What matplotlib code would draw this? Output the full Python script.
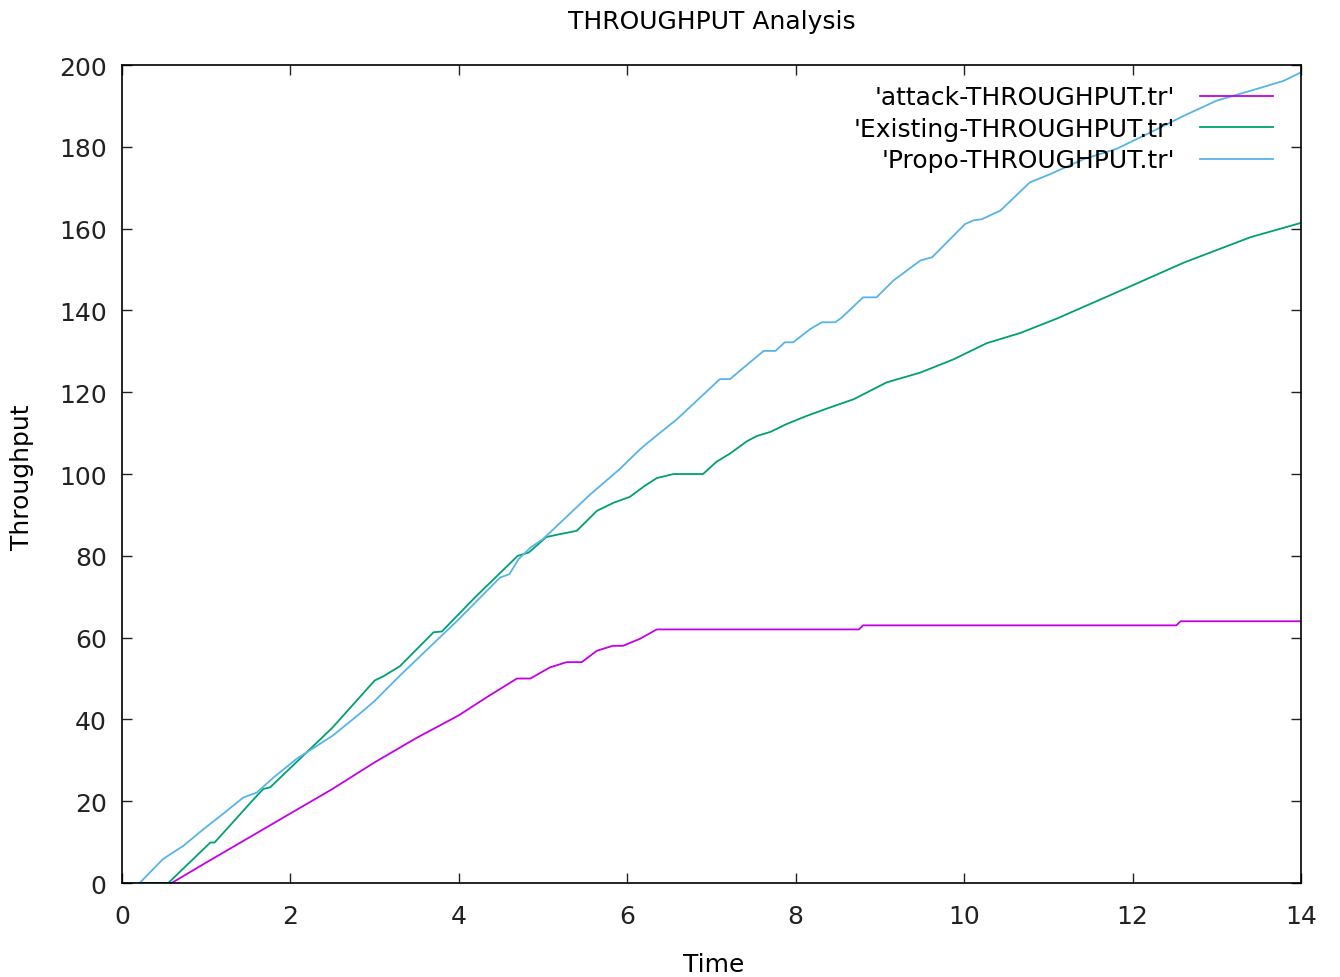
import numpy as np
import matplotlib
matplotlib.use("Agg")
import matplotlib.pyplot as plt

plt.rcParams['font.family'] = ['DejaVu Sans']

# values (time, throughput)
attack_t = [0, 0.59, 1.0, 1.5, 2.0, 2.5, 3.0, 3.5, 4.0, 4.33, 4.69, 4.85, 5.08, 5.28, 5.46,
            5.64, 5.83, 5.95, 6.15, 6.35, 8.75, 8.8, 12.52, 12.57, 14.0]
attack_y = [0, 0, 5, 11, 17, 23, 29.5, 35.5, 41, 45.4, 50, 50, 52.7, 54, 54,
            56.8, 58, 58, 59.7, 62, 62, 63, 63, 64, 64]

existing_t = [0, 0.55, 1.05, 1.10, 1.60, 1.68, 1.76, 2.11, 2.5, 3.0, 3.1, 3.3, 3.7, 3.8, 4.2,
              4.7, 4.83, 5.04, 5.2, 5.4, 5.64, 5.84, 6.03, 6.2, 6.35, 6.55, 6.9, 7.06, 7.22,
              7.42, 7.54, 7.70, 7.89, 8.13, 8.37, 8.69, 9.08, 9.48, 9.87, 10.27, 10.67, 11.1,
              11.81, 12.61, 13.4, 14.0]
existing_y = [0, 0, 9.9, 9.9, 21.3, 23, 23.4, 30.3, 38, 49.5, 50.5, 53, 61.3, 61.5, 70,
              80, 80.8, 84.6, 85.3, 86.1, 91, 93, 94.4, 97, 99, 100, 100, 103, 105,
              108, 109.3, 110.3, 112.2, 114.2, 116, 118.3, 122.4, 124.8, 128, 132, 134.5, 138,
              144.4, 151.7, 157.9, 161.4]

propo_t = [0, 0.21, 0.49, 0.73, 0.97, 1.20, 1.44, 1.60, 1.80, 2.07, 2.5, 2.8, 3.0, 3.3, 4.0,
           4.49, 4.6, 4.71, 4.85, 5.0, 5.2, 5.56, 5.91, 6.15, 6.27, 6.59, 7.10, 7.22, 7.34,
           7.62, 7.76, 7.87, 7.97, 8.17, 8.31, 8.47, 8.55, 8.80, 8.96, 9.16, 9.48, 9.62, 10.01,
           10.11, 10.21, 10.43, 10.78, 11.02, 11.42, 11.81, 12.21, 12.61, 13.0, 13.4, 13.79, 14.0]
propo_y = [0, 0, 5.9, 9.1, 13.2, 16.9, 20.9, 22.1, 25.8, 30.3, 36, 41, 44.5, 50.7, 64.5,
           74.7, 75.5, 79.2, 82, 84.1, 88, 95, 101.2, 106, 108.1, 113.4, 123.2, 123.2, 125.3,
           130.1, 130.1, 132.2, 132.2, 135.4, 137.1, 137.1, 138.3, 143.2, 143.2, 147.3, 152.2, 153, 161.1,
           162, 162.3, 164.4, 171.3, 173.3, 177, 179.5, 183.5, 187.6, 191.3, 193.7, 196.1, 198.2]

labels = ["'attack-THROUGHPUT.tr'", "'Existing-THROUGHPUT.tr'", "'Propo-THROUGHPUT.tr'"]
colors = ['#c400e6', '#00a070', '#56b4e9']

fs = 18

fig = plt.figure(figsize=(13.4, 9.78), dpi=100)
ax = fig.add_axes([0.0910, 0.0961, 0.8799, 0.8364])

ax.plot(attack_t, attack_y, color=colors[0], lw=1.3, label=labels[0])
ax.plot(existing_t, existing_y, color=colors[1], lw=1.3, label=labels[1])
ax.plot(propo_t, propo_y, color=colors[2], lw=1.3, label=labels[2])

ax.set_xlim(0, 14)
ax.set_ylim(0, 200)
ax.set_xticks(np.arange(0, 15, 2))
ax.set_yticks(np.arange(0, 201, 20))
ax.tick_params(direction='in', length=7, width=1, top=True, right=True, labelsize=fs, colors='#222222')
ax.tick_params(axis='x', pad=15)
ax.tick_params(axis='y', pad=11)
for s in ax.spines.values():
    s.set_linewidth(1.2)

ax.set_title("THROUGHPUT Analysis", fontsize=fs, pad=27)
ax.set_xlabel("Time", fontsize=fs)
ax.set_ylabel("Throughput", fontsize=fs)
ax.xaxis.set_label_coords(0.502, -0.0845)
ax.yaxis.set_label_coords(-0.0746, 0.4976)

ax.legend(loc='upper right', frameon=False, markerfirst=False, fontsize=fs,
          bbox_to_anchor=(0.976, 0.975), borderpad=0, borderaxespad=0,
          handlelength=2.9, handletextpad=1.0, labelspacing=0.3)

plt.savefig("out.png", dpi=100)
